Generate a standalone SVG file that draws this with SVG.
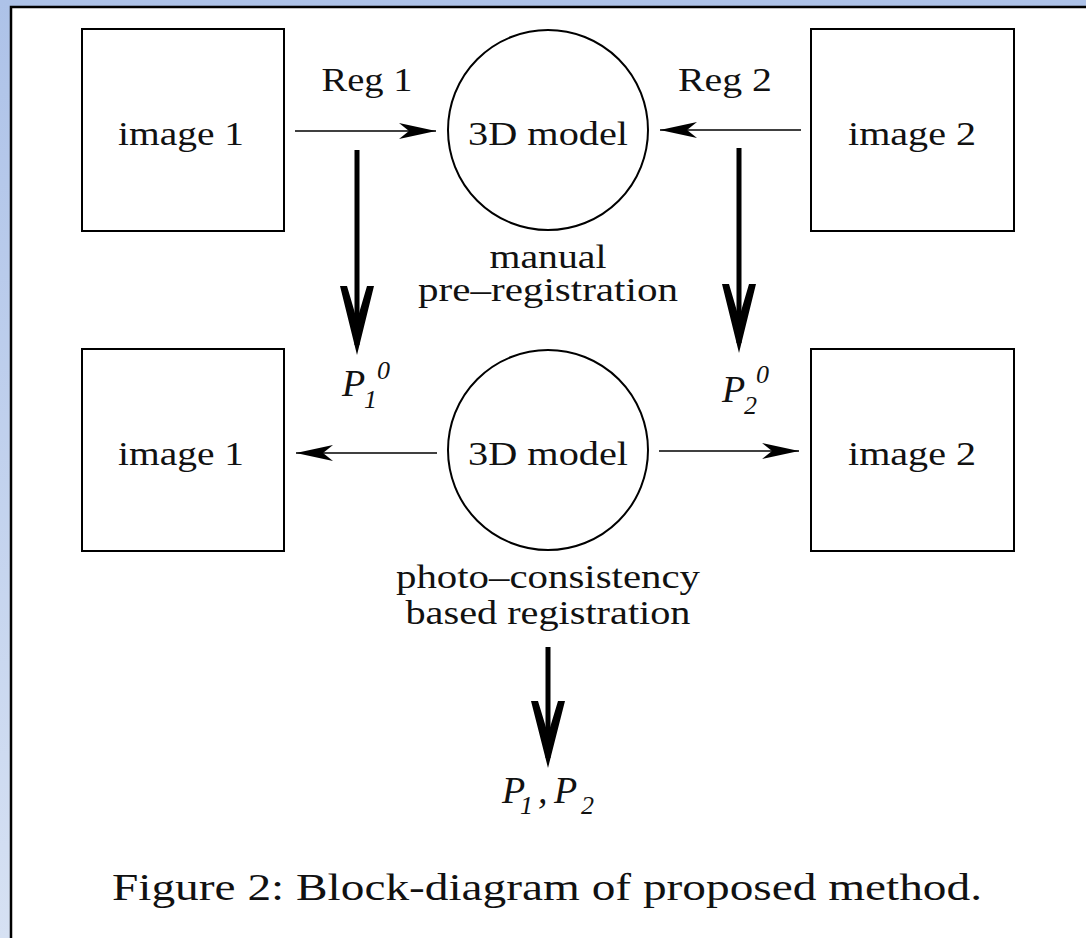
<svg xmlns="http://www.w3.org/2000/svg" width="1086" height="938" viewBox="0 0 1086 938">
  <defs>
    <linearGradient id="frameBg" x1="0" y1="0" x2="0" y2="1">
      <stop offset="0" stop-color="#adc2e8"/>
      <stop offset="1" stop-color="#d6e1f3"/>
    </linearGradient>
    <!-- slim barbed head for the thin connectors -->
    <marker id="thinHead" viewBox="0 0 38 18" refX="37" refY="9" markerWidth="38" markerHeight="18" markerUnits="userSpaceOnUse" orient="auto">
      <path d="M37,9 L0,1 L10,9 L0,17 Z" fill="#000"/>
    </marker>
  </defs>
  <style>
    .box { fill: #fff; stroke: #000; stroke-width: 2; }
    .disc { fill: #fff; stroke: #000; stroke-width: 2; }
    .thin { stroke: #000; stroke-width: 1.6; fill: none; marker-end: url(#thinHead); }
    .thick { stroke: #000; stroke-width: 5; fill: none; }
    .head { fill: #000; }
    .lbl { font-size: 33px; text-anchor: middle; fill: #111; }
    .math { font-size: 38px; font-style: italic; fill: #111; }
    .idx { font-size: 26px; }
    .cap { font-size: 38px; fill: #111; }
  </style>

  <!-- page frame -->
  <rect x="0" y="0" width="1086" height="938" fill="url(#frameBg)"/>
  <rect x="11" y="7" width="1080" height="940" fill="#fff" stroke="#000" stroke-width="2.5"/>

  <g font-family="Liberation Serif, Times New Roman, serif">
  <!-- upper row: manual pre-registration -->
  <g id="img1-top">
    <rect class="box" x="82" y="29" width="202" height="202"/>
    <text class="lbl" x="181" y="145" textLength="126" lengthAdjust="spacingAndGlyphs">image 1</text>
  </g>
  <g id="model-top">
    <circle class="disc" cx="548" cy="130" r="100"/>
    <text class="lbl" x="548" y="145" textLength="160" lengthAdjust="spacingAndGlyphs">3D model</text>
    <text class="lbl" x="548" y="268" textLength="117" lengthAdjust="spacingAndGlyphs">manual</text>
    <text class="lbl" x="548" y="301" textLength="260" lengthAdjust="spacingAndGlyphs">pre–registration</text>
  </g>
  <g id="img2-top">
    <rect class="box" x="811" y="29" width="203" height="202"/>
    <text class="lbl" x="912" y="145" textLength="128" lengthAdjust="spacingAndGlyphs">image 2</text>
  </g>

  <!-- lower row: photo-consistency based registration -->
  <g id="img1-bottom">
    <rect class="box" x="82" y="349" width="202" height="202"/>
    <text class="lbl" x="181" y="465" textLength="126" lengthAdjust="spacingAndGlyphs">image 1</text>
  </g>
  <g id="model-bottom">
    <circle class="disc" cx="548" cy="450" r="100"/>
    <text class="lbl" x="548" y="465" textLength="160" lengthAdjust="spacingAndGlyphs">3D model</text>
    <text class="lbl" x="548" y="588" textLength="304" lengthAdjust="spacingAndGlyphs">photo–consistency</text>
    <text class="lbl" x="548" y="624" textLength="285" lengthAdjust="spacingAndGlyphs">based registration</text>
  </g>
  <g id="img2-bottom">
    <rect class="box" x="811" y="349" width="203" height="202"/>
    <text class="lbl" x="912" y="465" textLength="128" lengthAdjust="spacingAndGlyphs">image 2</text>
  </g>

  <!-- connectors -->
  <g id="connectors">
    <line class="thin" x1="295" y1="131" x2="436" y2="131"/>
    <line class="thin" x1="801" y1="130" x2="660" y2="130"/>
    <line class="thin" x1="437" y1="453" x2="296" y2="453"/>
    <line class="thin" x1="659" y1="451" x2="799" y2="451"/>

    <line class="thick" x1="357" y1="150" x2="357" y2="345"/>
    <polygon class="head" points="357,355 340,286 347,286 357,320 367,286 374,286"/>

    <line class="thick" x1="739" y1="148" x2="739" y2="343"/>
    <polygon class="head" points="739,353 722,284 729,284 739,318 749,284 756,284"/>

    <line class="thick" x1="548" y1="647" x2="548" y2="758"/>
    <polygon class="head" points="548,768 531,701 538,701 548,734 558,701 565,701"/>
  </g>

  <!-- connector labels -->
  <g id="labels">
    <text class="lbl" x="367" y="91" textLength="91" lengthAdjust="spacingAndGlyphs">Reg 1</text>
    <text class="lbl" x="725" y="91" textLength="94" lengthAdjust="spacingAndGlyphs">Reg 2</text>

    <text class="math" x="342" y="396">P<tspan class="idx" x="364" y="408">1</tspan><tspan class="idx" x="377" y="379">0</tspan></text>
    <text class="math" x="722" y="402">P<tspan class="idx" x="744" y="414">2</tspan><tspan class="idx" x="756" y="383">0</tspan></text>
    <text class="math" x="502" y="803">P<tspan class="idx" x="520" y="814">1</tspan><tspan x="538" y="803">,</tspan><tspan x="554" y="803">P</tspan><tspan class="idx" x="581" y="814">2</tspan></text>
  </g>

  <!-- caption -->
  <text class="cap" x="112" y="900" textLength="870" lengthAdjust="spacingAndGlyphs">Figure 2:  Block-diagram of proposed method.</text>
  </g>
</svg>
